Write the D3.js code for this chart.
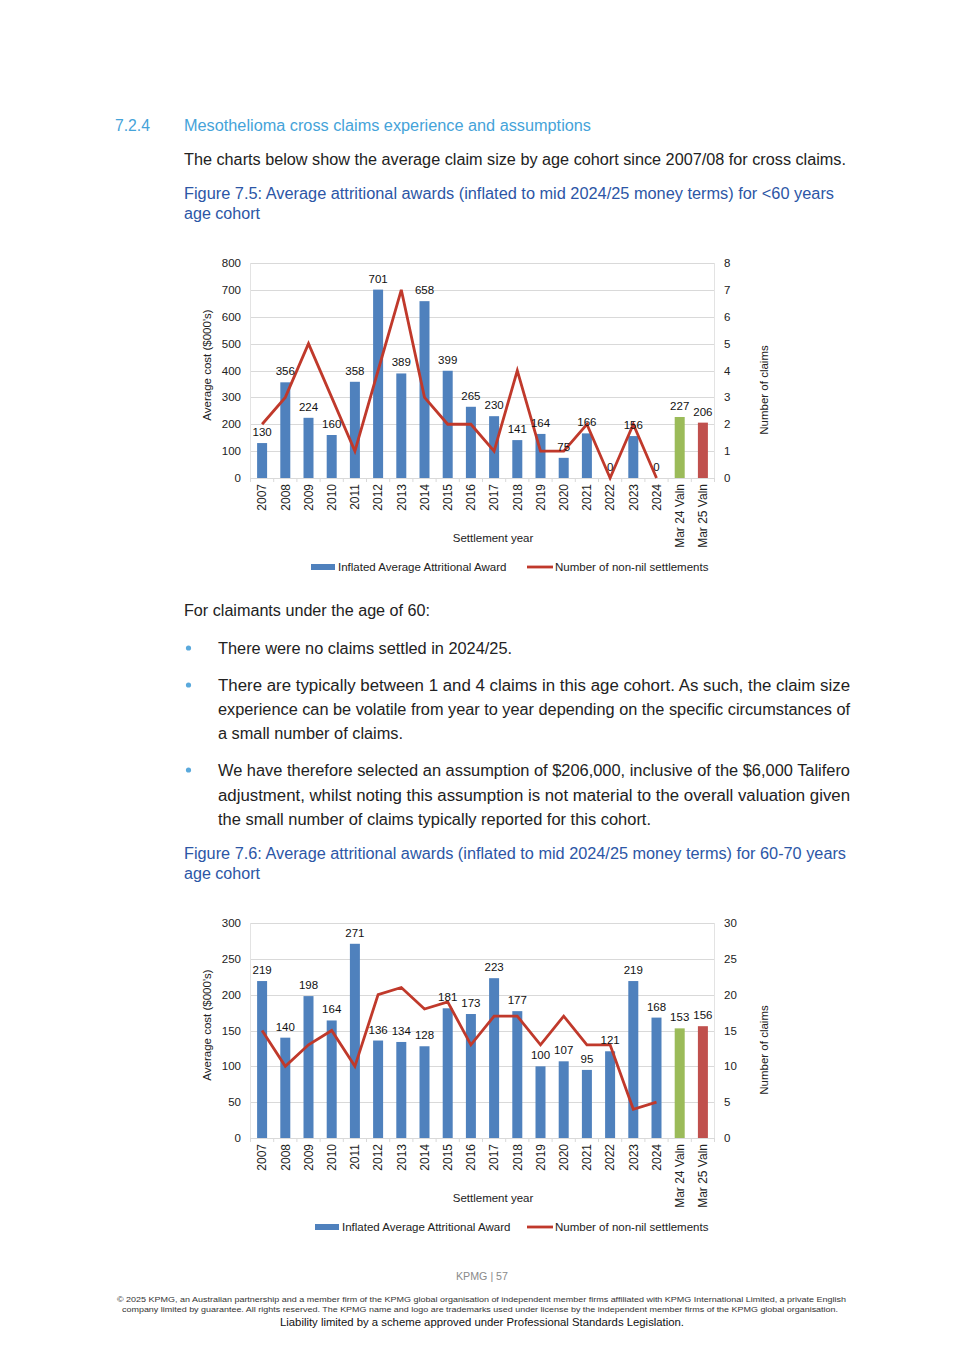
<!DOCTYPE html>
<html>
<head>
<meta charset="utf-8">
<script src="https://cdn.jsdelivr.net/npm/d3@7"></script>
<style>
  html, body { margin: 0; padding: 0; background: #fff; }
  svg { display: block; }
</style>
</head>
<body>
<svg id="page" width="965" height="1365"></svg>
<script>
// ---------- DATA ----------
const categories = ["2007","2008","2009","2010","2011","2012","2013","2014","2015","2016","2017","2018","2019","2020","2021","2022","2023","2024","Mar 24 Valn","Mar 25 Valn"];
const lineYears = categories.slice(0, 18);

const awardsUnder60 = [130,356,224,160,358,701,389,658,399,265,230,141,164,75,166,0,156,0,227,206];
const claimsUnder60 = [2,3,5,3,1,4,7,3,2,2,1,4,1,1,2,0,2,0];

const awards60to70 = [219,140,198,164,271,136,134,128,181,173,223,177,100,107,95,121,219,168,153,156];
const claims60to70 = [15,10,13,15,10,20,21,18,19,13,17,17,13,17,13,13,4,5];

const leftTicksUnder60 = [0,100,200,300,400,500,600,700,800];
const rightTicksUnder60 = [0,1,2,3,4,5,6,7,8];
const leftTicks60to70 = [0,50,100,150,200,250,300];
const rightTicks60to70 = [0,5,10,15,20,25,30];

const seriesNames = ["Inflated Average Attritional Award", "Number of non-nil settlements"];

// ---------- PAGE TEXT ----------
const svg = d3.select("#page");
svg.append("rect").attr("width", 965).attr("height", 1365).attr("fill", "#fff");

const BODY_FONT = "'Liberation Sans', Arial, sans-serif";
const HEAD_BLUE = "#45a3d9";
const CAP_BLUE = "#2c56a6";
const TEXT_COL = "#222";

function txt(x, y, s, opts = {}) {
  const t = svg.append("text")
    .attr("x", x).attr("y", y)
    .attr("font-family", opts.family || BODY_FONT)
    .attr("font-size", opts.size || 16)
    .attr("fill", opts.color || TEXT_COL)
    .attr("text-anchor", opts.anchor || "start")
    .text(s);
  if (opts.len) t.attr("textLength", opts.len).attr("lengthAdjust", "spacingAndGlyphs");
  return t;
}

txt(115, 131, "7.2.4", {color: HEAD_BLUE, len: 35});
txt(184, 131, "Mesothelioma cross claims experience and assumptions", {color: HEAD_BLUE, len: 407});
txt(184, 165, "The charts below show the average claim size by age cohort since 2007/08 for cross claims.", {len: 662});
txt(184, 199, "Figure 7.5: Average attritional awards (inflated to mid 2024/25 money terms) for <60 years", {color: CAP_BLUE, len: 650});
txt(184, 219, "age cohort", {color: CAP_BLUE, len: 76});

txt(184, 616, "For claimants under the age of 60:", {len: 246});
const bulletYs = [648, 685, 770];
bulletYs.forEach(y => svg.append("circle").attr("cx", 188.5).attr("cy", y).attr("r", 2.6).attr("fill", "#5aa9dc"));
txt(218, 654, "There were no claims settled in 2024/25.", {len: 294});
txt(218, 691, "There are typically between 1 and 4 claims in this age cohort. As such, the claim size", {len: 632});
txt(218, 715, "experience can be volatile from year to year depending on the specific circumstances of", {len: 632});
txt(218, 739, "a small number of claims.", {len: 185});
txt(218, 776, "We have therefore selected an assumption of $206,000, inclusive of the $6,000 Talifero", {len: 632});
txt(218, 801, "adjustment, whilst noting this assumption is not material to the overall valuation given", {len: 632});
txt(218, 825, "the small number of claims typically reported for this cohort.", {len: 433});
txt(184, 859, "Figure 7.6: Average attritional awards (inflated to mid 2024/25 money terms) for 60-70 years", {color: CAP_BLUE, len: 662});
txt(184, 879, "age cohort", {color: CAP_BLUE, len: 76});

// footer
txt(482, 1280, "KPMG  |  57", {size: 10, color: "#8a8a8a", anchor: "middle", len: 52});
txt(481.5, 1302, "© 2025 KPMG, an Australian partnership and a member firm of the KPMG global organisation of independent member firms affiliated with KPMG International Limited, a private English", {size: 8, color: "#333", anchor: "middle", len: 729});
txt(480, 1312, "company limited by guarantee. All rights reserved. The KPMG name and logo are trademarks used under license by the independent member  firms of the KPMG global organisation.", {size: 8, color: "#333", anchor: "middle", len: 716});
txt(482, 1326, "Liability limited by a scheme approved under Professional Standards Legislation.", {size: 10.5, color: "#111", anchor: "middle", len: 404});

// ---------- CHART ----------
const CHART_FONT = "'Liberation Sans', Arial, sans-serif";
const FS = 11.5;
const BLUE = "#4f81bd", GREEN = "#9bbb59", REDBAR = "#c0504d", LINE = "#c0392b";

function drawChart(cfg) {
  const g = svg.append("g");
  const left = 250.5, right = 714.5, top = cfg.top, bottom = cfg.top + 215;

  const x = d3.scaleBand().domain(categories).range([left, right]).paddingInner(0).paddingOuter(0);
  const yL = d3.scaleLinear().domain([cfg.leftTicks[0], cfg.leftTicks[cfg.leftTicks.length - 1]]).range([bottom, top]);
  const yR = d3.scaleLinear().domain([cfg.rightTicks[0], cfg.rightTicks[cfg.rightTicks.length - 1]]).range([bottom, top]);

  // gridlines
  g.selectAll(".grid").data(cfg.leftTicks.slice(1)).enter().append("line")
    .attr("x1", left).attr("x2", right)
    .attr("y1", d => Math.round(yL(d)) + 0.5).attr("y2", d => Math.round(yL(d)) + 0.5)
    .attr("stroke", "#d9d9d9").attr("stroke-width", 1);
  // side axis lines
  [left, right].forEach(xx => g.append("line").attr("x1", xx).attr("x2", xx).attr("y1", top).attr("y2", bottom)
    .attr("stroke", "#e3e3e3"));
  // baseline
  g.append("line").attr("x1", left).attr("x2", right).attr("y1", Math.round(bottom) + 0.5).attr("y2", Math.round(bottom) + 0.5)
    .attr("stroke", "#d9d9d9");
  // category tick marks
  g.selectAll(".ctick").data(categories.concat(["__end"])).enter().append("line")
    .attr("x1", (d, i) => left + i * x.bandwidth()).attr("x2", (d, i) => left + i * x.bandwidth())
    .attr("y1", bottom).attr("y2", bottom + 4)
    .attr("stroke", "#d9d9d9");

  // left axis labels
  g.selectAll(".lt").data(cfg.leftTicks).enter().append("text")
    .attr("x", 241).attr("y", d => yL(d)).attr("dy", "0.35em")
    .attr("text-anchor", "end").attr("font-family", CHART_FONT).attr("font-size", FS).attr("fill", "#222")
    .text(d => d);
  // right axis labels
  g.selectAll(".rt").data(cfg.rightTicks).enter().append("text")
    .attr("x", 724).attr("y", d => yR(d)).attr("dy", "0.35em")
    .attr("text-anchor", "start").attr("font-family", CHART_FONT).attr("font-size", FS).attr("fill", "#222")
    .text(d => d);

  // bars
  const bw = 10;
  g.selectAll(".bar").data(cfg.awards).enter().append("rect")
    .attr("x", (d, i) => x(categories[i]) + x.bandwidth() / 2 - bw / 2)
    .attr("width", bw)
    .attr("y", d => yL(d))
    .attr("height", d => bottom - yL(d))
    .attr("fill", (d, i) => i === 18 ? GREEN : (i === 19 ? REDBAR : BLUE));

  // line
  const line = d3.line().x((d, i) => x(lineYears[i]) + x.bandwidth() / 2).y(d => yR(d));
  g.append("path").datum(cfg.claims).attr("d", line)
    .attr("fill", "none").attr("stroke", LINE).attr("stroke-width", 2.8).attr("stroke-linejoin", "miter");

  // data labels
  g.selectAll(".dl").data(cfg.awards).enter().append("text")
    .attr("x", (d, i) => x(categories[i]) + x.bandwidth() / 2)
    .attr("y", d => yL(d) - 11).attr("dy", "0.35em")
    .attr("text-anchor", "middle").attr("font-family", CHART_FONT).attr("font-size", FS).attr("fill", "#111")
    .text(d => d);

  // x labels
  g.selectAll(".xl").data(categories).enter().append("text")
    .attr("transform", d => `translate(${x(d) + x.bandwidth() / 2},${bottom + 6}) rotate(-90)`)
    .attr("dy", "0.35em").attr("text-anchor", "end")
    .attr("font-family", CHART_FONT).attr("font-size", 12).attr("fill", "#222")
    .text(d => d);

  // axis titles
  g.append("text").attr("transform", `translate(207,${top + 102}) rotate(-90)`)
    .attr("dy", "0.35em").attr("text-anchor", "middle")
    .attr("font-family", CHART_FONT).attr("font-size", FS).attr("fill", "#222").text("Average cost ($000's)");
  g.append("text").attr("transform", `translate(764,${top + 127}) rotate(-90)`)
    .attr("dy", "0.35em").attr("text-anchor", "middle")
    .attr("font-family", CHART_FONT).attr("font-size", FS).attr("fill", "#222").text("Number of claims");
  g.append("text").attr("x", 493).attr("y", top + 275).attr("dy", "0.35em").attr("text-anchor", "middle")
    .attr("font-family", CHART_FONT).attr("font-size", FS).attr("fill", "#222").text("Settlement year");

  // legend
  const ly = top + 304;
  g.append("rect").attr("x", cfg.legX).attr("y", ly - 3).attr("width", 24).attr("height", 6).attr("fill", BLUE);
  g.append("text").attr("x", cfg.legX + 27).attr("y", ly).attr("dy", "0.35em")
    .attr("font-family", CHART_FONT).attr("font-size", FS).attr("fill", "#222").text(seriesNames[0]);
  g.append("line").attr("x1", 527).attr("x2", 553).attr("y1", ly).attr("y2", ly)
    .attr("stroke", LINE).attr("stroke-width", 2.8);
  g.append("text").attr("x", 555).attr("y", ly).attr("dy", "0.35em")
    .attr("font-family", CHART_FONT).attr("font-size", FS).attr("fill", "#222").text(seriesNames[1]);
}

drawChart({top: 263, leftTicks: leftTicksUnder60, rightTicks: rightTicksUnder60, awards: awardsUnder60, claims: claimsUnder60, legX: 311});
drawChart({top: 923, leftTicks: leftTicks60to70, rightTicks: rightTicks60to70, awards: awards60to70, claims: claims60to70, legX: 315});
</script>
</body>
</html>
